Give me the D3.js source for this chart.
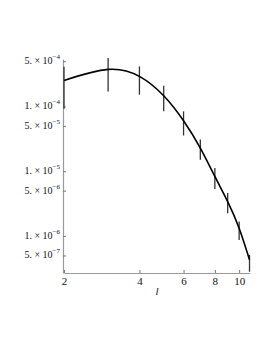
<!DOCTYPE html>
<html>
<head>
<meta charset="utf-8">
<script src="https://cdn.jsdelivr.net/npm/d3@7"></script>
<style>
  body { margin: 0; background: #fff; }
  text { font-family: "Liberation Serif", "DejaVu Serif", serif; }
</style>
</head>
<body>
<div id="chart"></div>
<script>
// data
const lValues = [2, 3, 4, 5, 6, 7, 8, 9, 10, 11];
const meanValues = [2.52e-4, 3.73e-4, 2.91e-4, 1.46e-4, 6.0e-5, 2.27e-5, 8.3e-6, 3.4e-6, 1.32e-6, 4.3e-7];
const errTop = [4.1e-4, 5.6e-4, 4.15e-4, 2.09e-4, 8.4e-5, 3.1e-5, 1.12e-5, 4.6e-6, 1.67e-6, 5.1e-7];
const errBottom = [0.92e-4, 1.7e-4, 1.52e-4, 0.84e-4, 3.56e-5, 1.5e-5, 5.3e-6, 2.25e-6, 0.87e-6, 2.8e-7];
const xTicks = [2, 4, 6, 8, 10];
const yTicks = [5e-4, 1e-4, 5e-5, 1e-5, 5e-6, 1e-6, 5e-7];
const yTickMant = ["5.", "1.", "5.", "1.", "5.", "1.", "5."];
const yTickExp = ["−4", "−4", "−5", "−5", "−6", "−6", "−7"];

const width = 273;
const height = 353;

const svg = d3
  .select("#chart")
  .append("svg")
  .attr("width", width)
  .attr("height", height);

const xScale = d3.scaleLog().domain([2, 11.05]).range([64, 250]);
const yScale = d3.scaleLog().domain([2.68e-7, 5.4e-4]).range([273, 59]);

// axes
const xAxis = d3.axisBottom(xScale).tickValues(xTicks).tickFormat(d3.format("d")).tickSizeInner(-3).tickSizeOuter(0).tickPadding(4);
const gx = svg.append("g").attr("transform", "translate(0,273)").call(xAxis);
gx.select(".domain").attr("stroke", "#999").attr("stroke-width", 1.2);
gx.selectAll(".tick line").attr("stroke", "#777");
gx.selectAll(".tick text").attr("font-size", 11).attr("fill", "#111");

const yAxis = d3.axisLeft(yScale).tickValues(yTicks).tickFormat("").tickSizeInner(-3).tickSizeOuter(0);
const gy = svg.append("g").attr("transform", "translate(63,0)").call(yAxis);
gy.select(".domain").attr("stroke", "#999").attr("stroke-width", 1.2);
gy.selectAll(".tick line").attr("stroke", "#777");

const labels = svg.append("g");
yTicks.forEach((v, i) => {
  const t = labels
    .append("text")
    .attr("x", 60)
    .attr("y", yScale(v) + 3)
    .attr("text-anchor", "end")
    .attr("font-size", 10)
    .attr("fill", "#111");
  t.append("tspan").text(yTickMant[i] + " × 10");
  t.append("tspan").attr("dy", -5).attr("font-size", 7).text(yTickExp[i]);
});

svg
  .append("text")
  .attr("x", 157)
  .attr("y", 295)
  .attr("text-anchor", "middle")
  .attr("font-size", 11)
  .attr("font-style", "italic")
  .attr("fill", "#222")
  .text("l");

// error bars
svg
  .append("g")
  .selectAll("line")
  .data(lValues)
  .enter()
  .append("line")
  .attr("x1", (d) => xScale(d))
  .attr("x2", (d) => xScale(d))
  .attr("y1", (d, i) => yScale(errTop[i]))
  .attr("y2", (d, i) => yScale(errBottom[i]))
  .attr("stroke", "#333")
  .attr("stroke-width", 1.3);

// curve
const line = d3
  .line()
  .x((d) => xScale(d))
  .y((d, i) => yScale(meanValues[i]))
  .curve(d3.curveNatural);

svg
  .append("path")
  .datum(lValues)
  .attr("d", line)
  .attr("fill", "none")
  .attr("stroke", "#000")
  .attr("stroke-width", 1.6);
</script>
</body>
</html>
